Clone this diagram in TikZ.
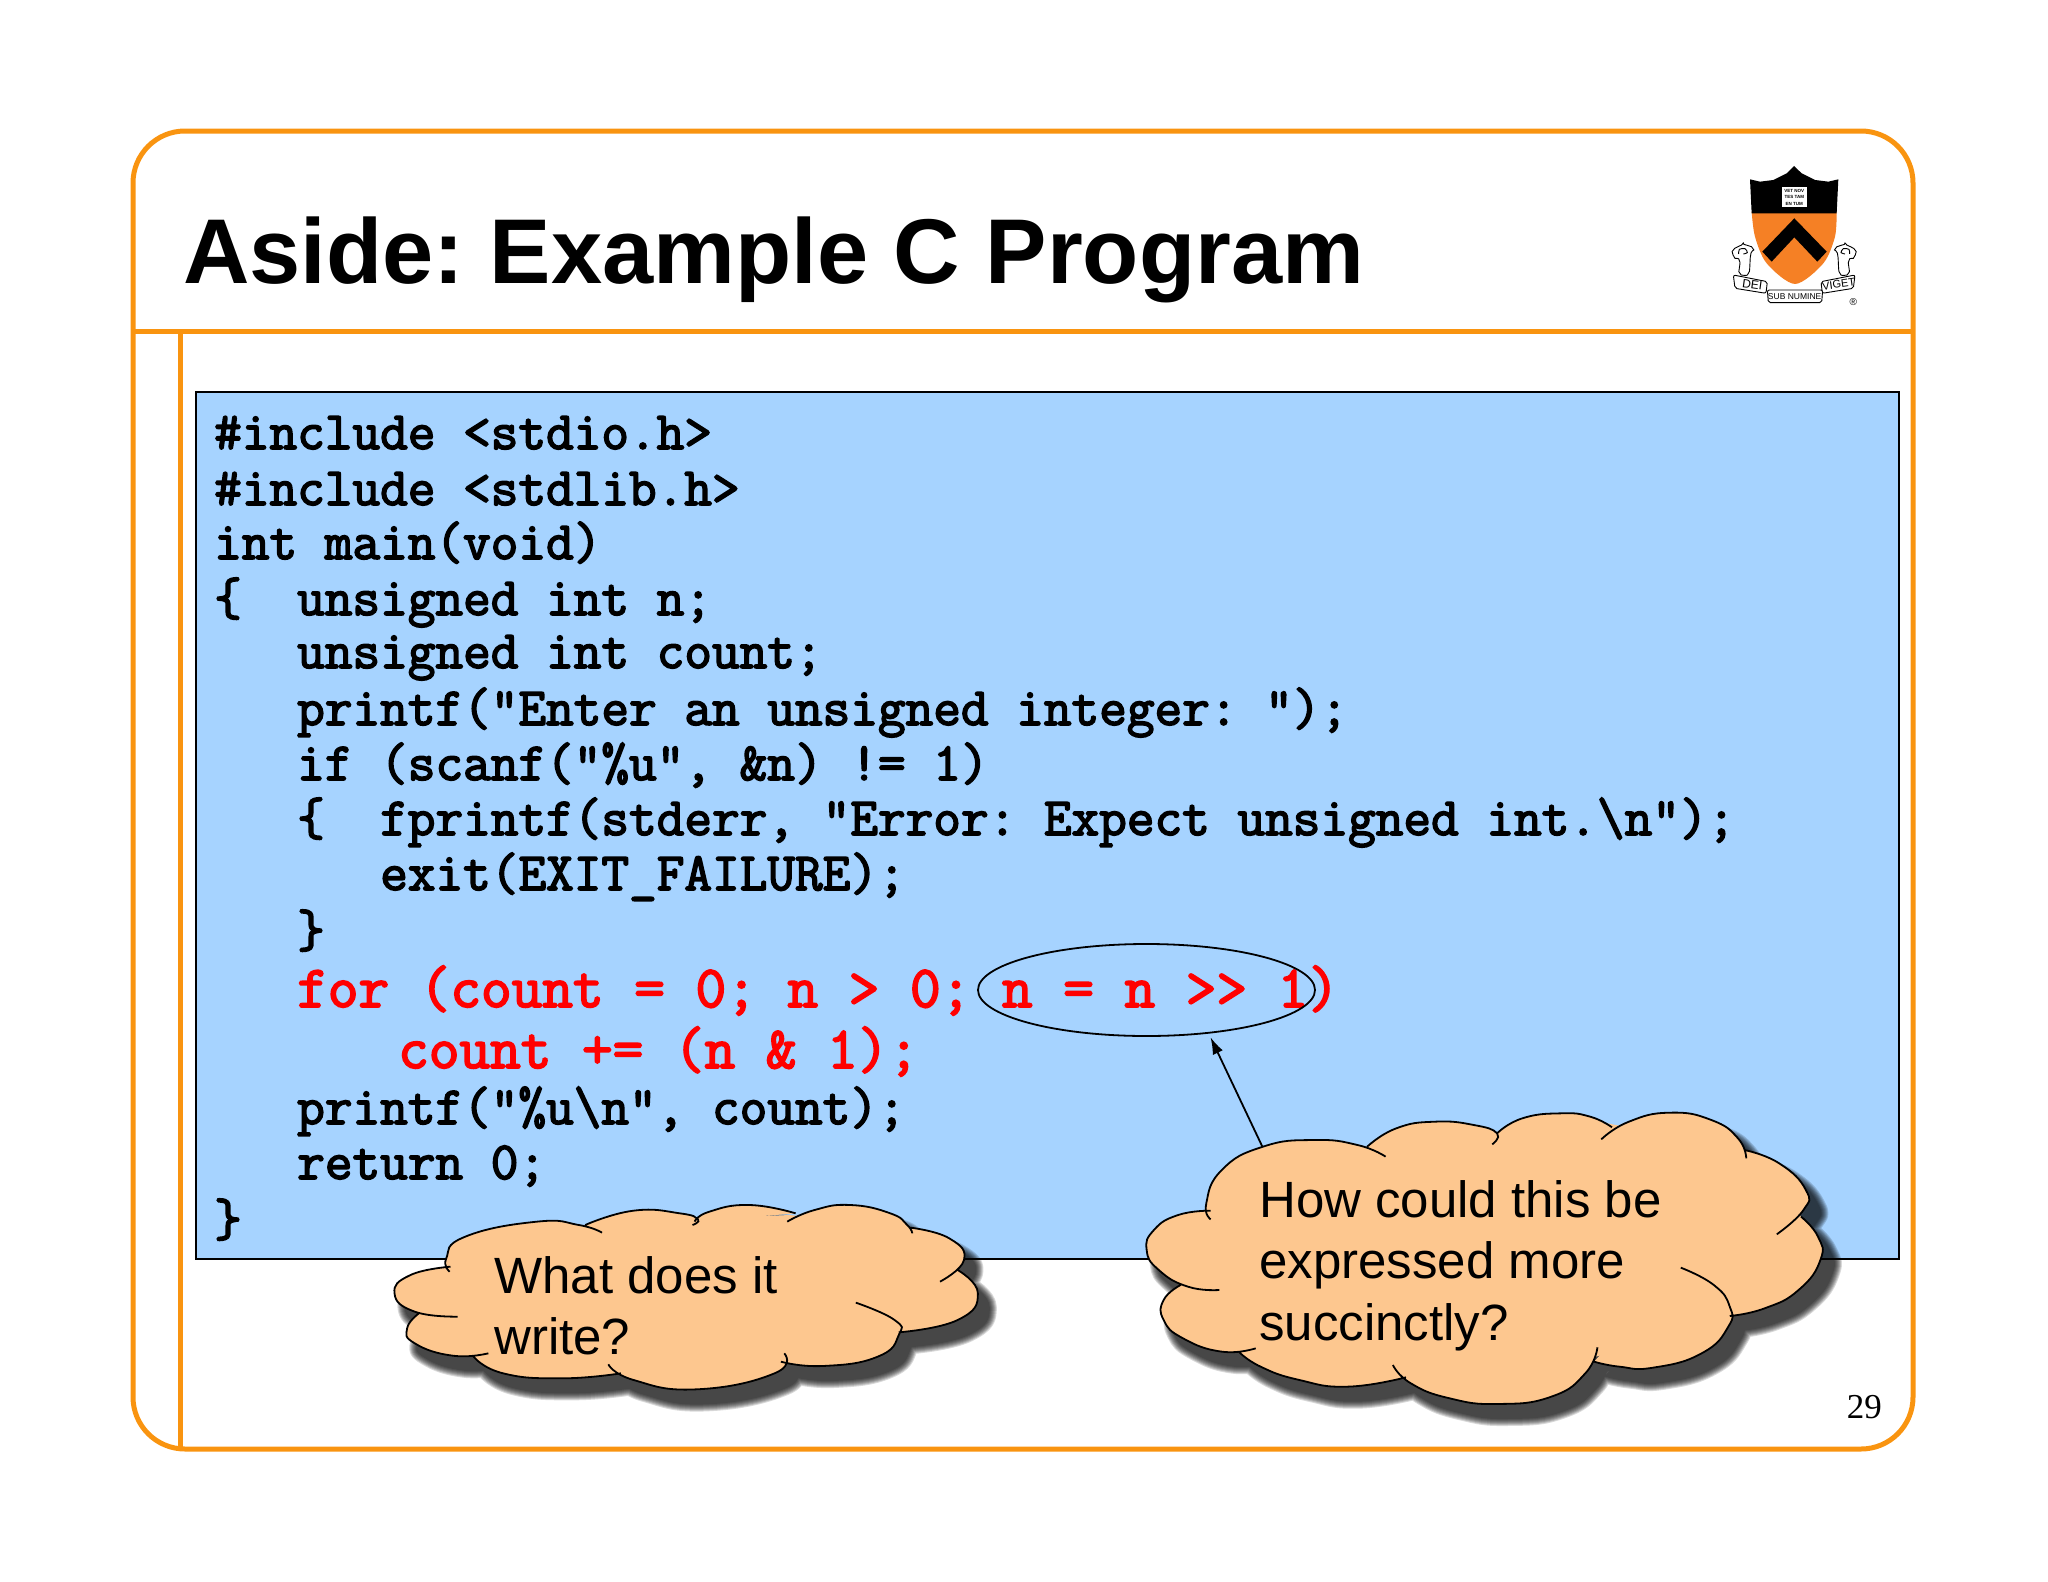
\documentclass[tikz,border=0pt]{standalone}
\usepackage{fontspec}
\setmainfont{Liberation Sans}
\newfontfamily\pagefont{Liberation Serif}
\newfontfamily\heavymono[FakeBold=3]{Latin Modern Mono}
\usetikzlibrary{shapes.geometric}
\usetikzlibrary{arrows.meta}
\definecolor{frameorange}{HTML}{F99410}
\definecolor{boxblue}{HTML}{A6D3FF}
\definecolor{cloudpeach}{HTML}{FDC78F}
\definecolor{shieldorange}{HTML}{F58025}
\newcommand{\blackcode}{\heavymono\frenchspacing\fontsize{53.7}{60}\selectfont}
\newcommand{\redcode}{\heavymono\frenchspacing\fontsize{59.5}{60}\selectfont}
\newcommand{\smalllobes}{
  plot[lobe] coordinates {(213,275) (205,235) (250,170) (420,125) (520,135) (575,158)}
  plot[lobe] coordinates {(535,135) (650,92) (760,100) (803,118) (790,135)}
  plot[lobe] coordinates {(795,125) (830,95) (925,75) (1035,100)}
  plot[lobe] coordinates {(1015,125) (1080,90) (1165,75) (1260,100) (1300,135) (1312,160)}
  plot[lobe] coordinates {(1308,143) (1400,175) (1435,240) (1378,305)}
  plot[lobe] coordinates {(1420,270) (1468,340) (1420,420) (1280,457)}
  plot[lobe] coordinates {(1178,368) (1270,420) (1280,465) (1230,530) (1100,558) (1000,545)}
  plot[lobe] coordinates {(1008,520) (985,580) (800,628) (650,600) (590,553)}
  plot[lobe] coordinates {(620,580) (480,595) (340,580) (270,530)}
  plot[lobe] coordinates {(305,520) (220,527) (130,490) (112,445) (140,400)}
  plot[lobe] coordinates {(232,410) (130,395) (82,340) (120,285) (215,260)}
}
\newcommand{\smallcore}{
  (213,262) -- (535,135) -- (803,118) -- (1020,105) -- (1308,143) -- (1420,270) -- (1280,457) -- (1005,545) -- (620,580) -- (270,530) -- (140,400) -- cycle
}
\newcommand{\biglobes}{
  plot[lobe] coordinates {(187,388) (178,340) (210,240) (295,170) (400,150) (490,165) (548,200)}
  plot[lobe] coordinates {(510,170) (570,115) (650,95) (730,105) (778,130) (768,163)}
  plot[lobe] coordinates {(778,130) (830,85) (910,70) (970,80) (1015,112)}
  plot[lobe] coordinates {(993,148) (1050,95) (1135,68) (1220,90) (1275,145) (1292,205)}
  plot[lobe] coordinates {(1288,180) (1360,220) (1415,300) (1410,360) (1355,433)}
  plot[lobe] coordinates {(1405,380) (1440,440) (1445,510) (1400,600) (1330,655) (1258,678)}
  plot[lobe] coordinates {(1157,533) (1225,585) (1258,650) (1255,710) (1200,790) (1100,833) (1030,830) (978,815)}
  plot[lobe] coordinates {(985,772) (960,850) (890,920) (780,942) (680,925) (600,880) (563,825)}
  plot[lobe] coordinates {(590,862) (470,890) (370,870) (290,830) (245,785)}
  plot[lobe] coordinates {(280,775) (210,785) (130,745) (90,690) (90,630) (125,585)}
  plot[lobe] coordinates {(205,600) (140,590) (80,540) (55,480) (70,420) (120,375) (187,362)}
}
\newcommand{\bigcore}{
  (187,362) -- (510,170) -- (778,130) -- (1005,100) -- (1288,180) -- (1405,380) -- (1258,678) -- (982,800) -- (590,862) -- (245,785) -- (125,585) -- cycle
}
\tikzset{
  lobe/.style={smooth, tension=.85},
  frameline/.style={draw=frameorange, line width=5pt},
  slidetext/.style={anchor=base west, inner sep=0pt},
  codeblack/.style={slidetext, font=\blackcode},
  codered/.style={slidetext, font=\redcode, text=red},
  cloudtext/.style={slidetext, font=\fontsize{51}{60}\selectfont},
  cloudshadow/.style={draw=black, fill=black, line join=round},
  cloudline/.style={draw=black, line width=1.8pt},
  ribbon/.style={draw=black, fill=white, line width=.9pt, rounded corners=2pt},
}
\begin{document}
\begin{tikzpicture}[x=1pt, y=-1pt]
\useasboundingbox (0,0) rectangle (2048,1582);
\draw[frameline, rounded corners=52pt] (133,131) rectangle (1913,1449);
\draw[frameline] (133,331) -- (1913,331);
\draw[frameline] (180,331) -- (180,1449);
\draw[fill=boxblue, draw=black, line width=1.6pt] (196,392) rectangle (1899,1259);

\node[slidetext, font=\bfseries\frenchspacing\fontsize{92}{110}\selectfont] (title) at (183,283) {Aside: Example C Program};
\node[slidetext, anchor=base east, font=\pagefont\fontsize{35}{40}\selectfont] (pagenum) at (1882,1418) {29};

\node[codeblack] (line1) at (214,449) {\#include <stdio.h>};
\node[codeblack] (line2) at (214,505) {\#include <stdlib.h>};
\node[codeblack] (line3) at (214,559) {int main(void)};
\node[codeblack] (line4) at (214,615) {\{\ \ unsigned int n;};
\node[codeblack] (line5) at (297,668) {unsigned int count;};
\node[codeblack] (line6) at (297,725) {printf("Enter an unsigned integer: ");};
\node[codeblack] (line7) at (297,780) {if (scanf("\%u", \&n) != 1)};
\node[codeblack] (line8) at (297,835) {\{\ \ fprintf(stderr, "Error: Expect unsigned int.\textbackslash n");};
\node[codeblack] (line9) at (380,890) {exit(EXIT\_FAILURE);};
\node[codeblack] (line10) at (297,947) {\}};
\node[codered] (line11) at (297,1007) {for (count = 0; n > 0; n = n >> 1)};
\node[codered] (line12) at (398,1068) {count += (n \& 1);};
\node[codeblack] (line13) at (297,1124) {printf("\%u\textbackslash n", count);};
\node[codeblack] (line14) at (297,1179) {return 0;};
\node[codeblack] (line15) at (214,1236) {\}};

\node[ellipse, draw=black, line width=1.8pt, minimum width=337pt, minimum height=92pt, inner sep=0pt] (shiftoval) at (1146.5,990) {};
\coordinate (bigtail) at (1263,1148);
\draw[-{Latex[length=17pt,width=11pt]}, line width=1.8pt, shorten >=4pt] (bigtail) -- (shiftoval.-35);

% small cloud, points read off the zoom
\begin{scope}[shift={(360,1180)}, x=.4209pt, y=-.3333pt]
\foreach \w in {16,14,12,10,8,6,4,2} {
  \begin{scope}[transparency group, opacity=.15]
  \path[cloudshadow, line width=\w pt, shift={(26,42)}] \smalllobes \smallcore;
  \end{scope}
}
\fill[cloudpeach] \smalllobes \smallcore;
\path[cloudline] \smalllobes;
\end{scope}
\node[cloudtext] (ask1) at (494,1293) {What does it};
\node[cloudtext] (ask2) at (494,1354) {write?};

% big cloud
\begin{scope}[shift={(1120,1090)}, x=.4847pt, y=-.3333pt]
\foreach \w in {16,14,12,10,8,6,4,2} {
  \begin{scope}[transparency group, opacity=.15]
  \path[cloudshadow, line width=\w pt, shift={(23,42)}] \biglobes \bigcore;
  \end{scope}
}
\fill[cloudpeach] \biglobes \bigcore;
\path[cloudline] \biglobes;
\end{scope}
\node[cloudtext] (how1) at (1259,1217) {How could this be};
\node[cloudtext] (how2) at (1259,1278) {expressed more};
\node[cloudtext] (how3) at (1259,1340) {succinctly?};

% shield
\begin{scope}[shift={(1680,130)}, x=.3333pt, y=-.3333pt]
\fill[shieldorange] plot[smooth] coordinates {(470,245) (465,320) (430,400) (345,462) (260,400) (225,320) (215,245)} -- cycle;
\fill[black] (210,148) -- (240,155) -- (280,150) -- (320,130) -- (342,108) -- (365,130) -- (405,150) -- (445,155) -- (475,148) -- (470,250) -- (215,250) -- cycle;
\fill[black] (343,265) -- (440,365) -- (412,395) -- (343,322) -- (275,395) -- (247,365) -- cycle;
\fill[white] (305,172) rectangle (380,232);
\draw[ribbon] plot[smooth cycle] coordinates {(160,360) (190,345) (218,355) (212,375) (205,430) (180,430) (178,392) (162,380)};
\draw[ribbon] plot[smooth cycle] coordinates {(525,360) (495,345) (467,355) (473,375) (480,430) (505,430) (507,392) (523,380)};
\draw[line width=.9pt] plot[smooth] coordinates {(176,372) (178,358) (195,356) (202,368) (190,372)};
\draw[line width=.9pt] plot[smooth] coordinates {(509,372) (507,358) (490,356) (483,368) (495,372)};
\draw[ribbon] (160,435) -- (262,455) -- (258,490) -- (165,475) -- cycle;
\draw[ribbon] (525,435) -- (423,455) -- (427,490) -- (520,475) -- cycle;
\draw[ribbon] (262,480) -- (428,480) -- (425,518) -- (265,518) -- cycle;
\node[font=\fontsize{12}{12}\selectfont, rotate=-8, inner sep=0pt] (dei) at (217,463) {DEI};
\node[font=\fontsize{8.5}{9}\selectfont, inner sep=0pt] (numine) at (344,499) {SUB NUMINE};
\node[font=\fontsize{11}{12}\selectfont, rotate=8, inner sep=0pt] (viget) at (476,462) {VIGET};
\node[font=\fontsize{10}{10}\selectfont, inner sep=0pt] (regmark) at (520,515) {\textregistered};
\node[font=\fontsize{4.5}{6.5}\selectfont\bfseries, align=center, inner sep=0pt] (motto) at (343,202) {VET NOV\\TES TAM\\EN TUM};
\end{scope}
\end{tikzpicture}
\end{document}
